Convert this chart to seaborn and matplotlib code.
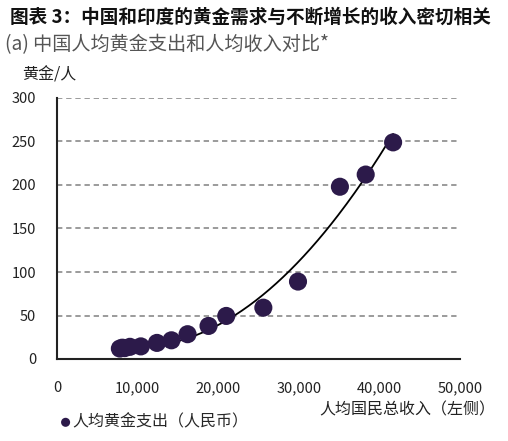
import numpy as np
import pandas as pd
import matplotlib
matplotlib.use('Agg')
import matplotlib.pyplot as plt
import seaborn as sns

# per-capita income (RMB) vs per-capita gold spending
income = [7800, 8100, 8400, 9050, 10400, 12400, 14200, 16200, 18800, 21000,
          25600, 29900, 35100, 38300, 41700]
gold = [12, 13, 12.5, 14, 14.5, 18.5, 21.5, 28.5, 38, 49.5,
        59, 89, 198, 212, 249]

x_ticks = [0, 10000, 20000, 30000, 40000, 50000]
x_ticklabels = ['0', '10,000', '20,000', '30,000', '40,000', '50,000']
y_ticks = [0, 50, 100, 150, 200, 250, 300]

title = '图表 3：中国和印度的黄金需求与不断增长的收入密切相关'
subtitle = '(a) 中国人均黄金支出和人均收入对比*'
y_label = '黄金/人'
x_label = '人均国民总收入（左侧）'
series_label = '人均黄金支出（人民币）'

df = pd.DataFrame({'income': income, 'gold': gold})

# trend line (quadratic fit of the points)
coef = np.polyfit(df['income'], df['gold'], 2)
fit_x = np.linspace(min(income), max(income), 200)
fit = pd.DataFrame({'income': fit_x, 'gold': np.polyval(coef, fit_x)})

sns.set_style('white')
plt.rcParams['font.family'] = ['Noto Sans CJK SC', 'DejaVu Sans']

point_color = '#2c1a4a'

fig = plt.figure(figsize=(5.08, 4.41), dpi=100)
ax = fig.add_axes([57 / 508, 82 / 441, 403 / 508, 261 / 441])

for y in y_ticks[1:]:
    ax.axhline(y, color='#808080', lw=1.1, ls=(0, (3.5, 2.5)), zorder=0)

sns.lineplot(data=fit, x='income', y='gold', ax=ax, color='black', lw=1.3,
             sort=False, zorder=2)
sns.scatterplot(data=df, x='income', y='gold', ax=ax, color=point_color, s=170,
                edgecolor='none', zorder=3, label=series_label)

ax.set_xlim(0, 50000)
ax.set_ylim(0, 300)
ax.set_xticks(x_ticks)
ax.set_xticklabels(x_ticklabels)
ax.set_yticks(y_ticks)
ax.set_xlabel('')
ax.set_ylabel('')
ax.tick_params(axis='both', labelsize=10.5, colors='#222222', length=5,
               width=1.2, direction='out', pad=11)
ax.tick_params(axis='y', pad=10)
for s in ['top', 'right']:
    ax.spines[s].set_visible(False)
for s in ['left', 'bottom']:
    ax.spines[s].set_color('#222222')
    ax.spines[s].set_linewidth(1.5)

leg = ax.legend(loc='center left', bbox_to_anchor=(60 / 508, 19 / 441),
                bbox_transform=fig.transFigure, frameon=False, fontsize=11.5,
                markerscale=0.5, handlelength=0.7, handletextpad=0.1,
                borderpad=0, borderaxespad=0)

fig.text(10 / 508, 1 - 17 / 441, title, fontsize=13.4, fontweight='bold',
         va='center', ha='left', color='#111111')
fig.text(5 / 508, 1 - 45 / 441, subtitle, fontsize=13.8, va='center', ha='left',
         color='#555555')
fig.text(22 / 508, 1 - 75 / 441, y_label, fontsize=11.5, va='center', ha='left',
         color='#222222', style='italic')
fig.text(495 / 508, 1 - 410 / 441, x_label, fontsize=11.5, va='center',
         ha='right', color='#222222', style='italic')

fig.savefig('out.png', dpi=100)
